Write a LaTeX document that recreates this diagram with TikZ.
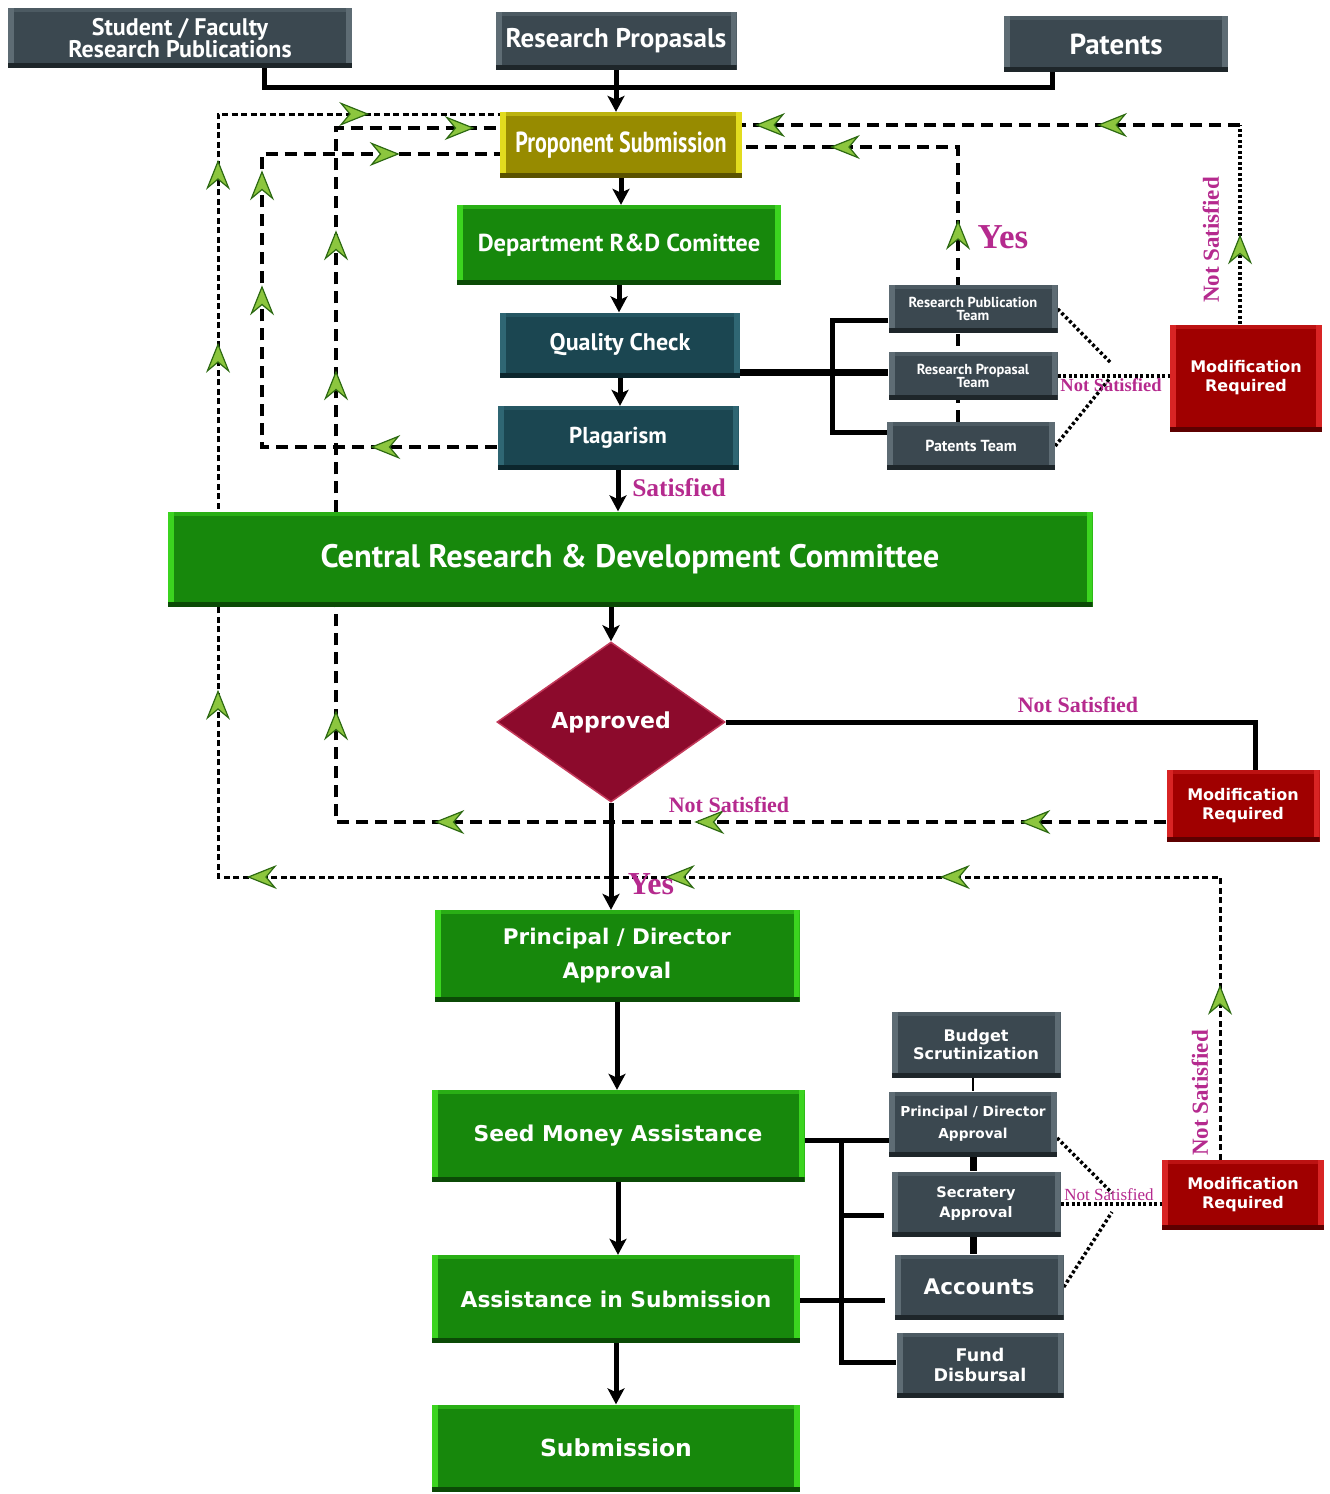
\documentclass[tikz,border=0pt]{standalone}
\usepackage{fontspec}
\setmainfont{DejaVu Sans}
\newfontfamily\dinfont{PT Sans}
\newfontfamily\narrowfont[FakeStretch=0.76]{PT Sans}
\newfontfamily\labelfont{Liberation Serif}
\usetikzlibrary{arrows.meta,shapes.geometric,decorations.markings}

\pgfdeclarelayer{background}
\pgfsetlayers{background,main}

\definecolor{slate}{HTML}{3B4850}
\definecolor{slateedge}{HTML}{5E6C74}
\definecolor{slatedark}{HTML}{1E262A}
\definecolor{tealbox}{HTML}{1B4651}
\definecolor{tealedge}{HTML}{2F6673}
\definecolor{tealdark}{HTML}{0C262D}
\definecolor{grn}{HTML}{17880C}
\definecolor{grnedge}{HTML}{3BD41F}
\definecolor{grndark}{HTML}{0B4A06}
\definecolor{olive}{HTML}{978B00}
\definecolor{oliveedge}{HTML}{E2DC1E}
\definecolor{olivedark}{HTML}{5A5200}
\definecolor{redbox}{HTML}{A00000}
\definecolor{rededge}{HTML}{D82424}
\definecolor{reddark}{HTML}{5E0000}
\definecolor{crimson}{HTML}{8C0A2C}
\definecolor{crimsonedge}{HTML}{C33A5B}
\definecolor{agreen}{HTML}{8CC63E}
\definecolor{adark}{HTML}{2D6A12}
\definecolor{lblc}{HTML}{B52A8E}

\tikzset{
  gtip/.tip={Stealth[length=30pt,width=24pt,inset=10pt,fill=agreen,color=adark,line width=1.2pt]},
  btip/.tip={Stealth[length=16pt,width=17pt,inset=4pt]},
}

\begin{document}
\begin{tikzpicture}[x=1pt,y=-1pt,
  box/.style={rectangle, inner sep=1pt, align=center, text=white},
  sz/.style 2 args={minimum width=#1, minimum height=#2},
  bevel/.style n args={3}{fill=#1, path picture={
      \fill[#2] (path picture bounding box.south west) rectangle ([xshift=6pt]path picture bounding box.north west);
      \fill[#2] (path picture bounding box.south east) rectangle ([xshift=-6pt]path picture bounding box.north east);
      \fill[#2, opacity=.5] (path picture bounding box.north west) rectangle ([yshift=-4pt]path picture bounding box.north east);
      \fill[#3] (path picture bounding box.south west) rectangle ([yshift=5pt]path picture bounding box.south east);}},
  greybox/.style={box, bevel={slate}{slateedge}{slatedark}},
  tealbx/.style={box, bevel={tealbox}{tealedge}{tealdark}},
  greenbox/.style={box, bevel={grn}{grnedge}{grndark}},
  olivebox/.style={box, bevel={olive}{oliveedge}{olivedark}},
  redbx/.style={box, bevel={redbox}{rededge}{reddark}, font=\bfseries\fontsize{16}{19}\selectfont},
  flow/.style={line width=5pt, -btip},
  bus/.style={line width=5pt},
  tree/.style={line width=5pt},
  dsh/.style={line width=3.5pt, dash pattern=on 12pt off 7pt},
  dts/.style={line width=3pt, dash pattern=on 6pt off 3.5pt},
  dots/.style={line width=3.5pt, dash pattern=on 3pt off 2.5pt},
  ga/.style={postaction={decorate, decoration={markings, mark=at position #1 with {\arrow{gtip}}}}},
  lbl/.style={text=lblc, font=\labelfont\bfseries\fontsize{#1}{#1}\selectfont, inner sep=0pt},
]
\useasboundingbox (0,0) rectangle (1330,1494);

% ---------- sources ----------
\node[greybox, sz={344pt}{60pt}, font=\dinfont\bfseries\fontsize{24}{22}\selectfont] (src1) at (180,38) {Student / Faculty\\Research Publications};
\node[greybox, sz={241pt}{58pt}, font=\dinfont\bfseries\fontsize{27}{29}\selectfont] (src2) at (616,41) {Research Propasals};
\node[greybox, sz={224pt}{56pt}, font=\dinfont\bfseries\fontsize{29}{31}\selectfont] (src3) at (1116,44) {Patents};

% ---------- upper chain ----------
\node[olivebox, sz={242pt}{66pt}, font=\narrowfont\bfseries\fontsize{29}{30}\selectfont] (prop) at (621,145) {Proponent Submission};
\node[greenbox, sz={324pt}{80pt}, font=\dinfont\bfseries\fontsize{24.5}{27}\selectfont] (dept) at (619,245) {Department R\&D Comittee};
\node[tealbx, sz={240pt}{65pt}, font=\dinfont\bfseries\fontsize{24}{26}\selectfont] (qc) at (620,345) {Quality Check};
\node[tealbx, sz={241pt}{64pt}, font=\dinfont\bfseries\fontsize{23}{25}\selectfont] (plag) at (618,438) {Plagarism};

% ---------- review teams ----------
\node[greybox, sz={169pt}{48pt}, font=\dinfont\bfseries\fontsize{14.5}{13.5}\selectfont] (rpt) at (973,309) {Research Publication\\Team};
\node[greybox, sz={169pt}{48pt}, font=\dinfont\bfseries\fontsize{14.5}{13.5}\selectfont] (rprt) at (973,376) {Research Propasal\\Team};
\node[greybox, sz={168pt}{48pt}, font=\dinfont\bfseries\fontsize{16}{18}\selectfont] (pt) at (971,446) {Patents Team};
\node[redbx, sz={152pt}{107pt}] (mod1) at (1246,378) {Modification\\Required};

% ---------- central committee and decision ----------
\node[greenbox, sz={925pt}{95pt}, font=\dinfont\bfseries\fontsize{32.5}{34}\selectfont] (crdc) at (630,559) {Central Research \& Development Committee};
\node[diamond, fill=crimson, draw=crimsonedge, line width=1.5pt, minimum width=228pt, minimum height=160pt, inner sep=0pt, text=white, font=\bfseries\fontsize{22}{24}\selectfont] (appr) at (611,722) {Approved};
\node[redbx, sz={153pt}{72pt}] (mod2) at (1243,806) {Modification\\Required};

% ---------- lower chain ----------
\node[greenbox, sz={365pt}{92pt}, font=\bfseries\fontsize{21.5}{34}\selectfont] (pda) at (617,956) {Principal / Director\\Approval};
\node[greenbox, sz={373pt}{92pt}, font=\bfseries\fontsize{21.8}{24}\selectfont] (sma) at (618,1136) {Seed Money Assistance};
\node[greenbox, sz={368pt}{88pt}, font=\bfseries\fontsize{21.8}{24}\selectfont] (ais) at (616,1299) {Assistance in Submission};
\node[greenbox, sz={368pt}{87pt}, font=\bfseries\fontsize{23.5}{26}\selectfont] (sub) at (616,1448) {Submission};

% ---------- funding steps ----------
\node[greybox, sz={169pt}{66pt}, font=\bfseries\fontsize{16}{18}\selectfont] (bs) at (976,1045) {Budget\\Scrutinization};
\node[greybox, sz={168pt}{65pt}, font=\bfseries\fontsize{13.7}{22}\selectfont] (pd2) at (973,1124) {Principal / Director\\Approval};
\node[greybox, sz={169pt}{65pt}, font=\bfseries\fontsize{14.5}{20}\selectfont] (sa) at (976,1204) {Secratery\\Approval};
\node[greybox, sz={169pt}{65pt}, font=\bfseries\fontsize{21.5}{24}\selectfont] (acc) at (979,1287) {Accounts};
\node[greybox, sz={167pt}{65pt}, font=\bfseries\fontsize{17.5}{20}\selectfont] (fd) at (980,1365) {Fund\\Disbursal};
\node[redbx, sz={162pt}{70pt}] (mod3) at (1243,1195) {Modification\\Required};

% ---------- routing points ----------
\coordinate (b1) at (264,87);
\coordinate (b3) at (1052,87);
\coordinate (a1) at (262,447);
\coordinate (a2) at (262,154);
\coordinate (c1) at (336,822);
\coordinate (c2) at (336,128);
\coordinate (d1) at (1220,877);
\coordinate (d2) at (218,877);
\coordinate (d3) at (218,114);
\coordinate (e1) at (1240,125);
\coordinate (f1) at (958,147);
\coordinate (g0) at (832,372);
\coordinate (g1) at (832,320);
\coordinate (g3) at (832,432);
\coordinate (h1) at (1110,362);
\coordinate (h2) at (1110,378);
\coordinate (k) at (1255,722);
\coordinate (m1) at (841,1140);
\coordinate (m2) at (841,1362);
\coordinate (m3) at (884,1215);
\coordinate (m4) at (885,1300);
\coordinate (n1) at (1112,1193);
\coordinate (n2) at (1112,1212);

\begin{pgfonlayer}{background}
  % sources feeding the submission
  \draw[bus] (src1.south -| b1) -- (b1) -- (b3) -- (src3.south -| b3);
  \draw[flow] (src2.south) -- (src2.south |- prop.north);

  % main flow
  \draw[flow] (prop.south) -- (prop.south |- dept.north);
  \draw[flow] (dept.south) -- (dept.south |- qc.north);
  \draw[flow] (qc.south) -- (qc.south |- plag.north);
  \draw[flow] (plag.south) -- (plag.south |- crdc.north);
  \draw[flow] (crdc.south -| appr.north) -- (appr.north);
  \draw[flow] (appr.south) -- (appr.south |- pda.north);
  \draw[flow] (pda.south) -- (pda.south |- sma.north);
  \draw[flow] (sma.south) -- (sma.south |- ais.north);
  \draw[flow] (ais.south) -- (ais.south |- sub.north);

  % return loops to the proponent
  \draw[dsh, ga=127pt, ga=397pt, ga=512pt, ga=666pt]
    (plag.west |- a1) -- (a1) -- (a2) -- (prop.west |- a2);
  \draw[dsh, ga=146pt, ga=472pt, ga=732pt, ga=942pt, ga=1282pt, ga=1422pt, ga=1663pt]
    (mod2.west |- c1) -- (c1) -- (c2) -- (prop.west |- c2);
  \draw[dts, ga=175pt, ga=563pt, ga=838pt, ga=1256pt, ga=1472pt, ga=1819pt, ga=2002pt, ga=2199pt]
    (mod3.north -| d1) -- (d1) -- (d2) -- (d3) -- (prop.west |- d3);
  \draw[dots, ga=90pt] (mod1.north -| e1) -- (e1);
  \draw[dsh, ga=143pt, ga=485pt] (e1) -- (prop.east |- e1);
  \draw[dsh, ga=202pt, ga=403pt] (pt.north -| f1) -- (f1) -- (prop.east |- f1);

  % quality check to the teams
  \draw[line width=7pt] (qc.east |- g0) -- (rprt.west |- g0);
  \draw[tree] (rpt.west |- g1) -- (g1) -- (g3) -- (pt.west |- g3);

  % teams to modification
  \draw[dots] (rpt.east) -- (h1);
  \draw[dots] (pt.east) -- (h2);
  \draw[dots] (rprt.east) -- (mod1.west |- rprt.east);

  % decision to modification
  \draw[tree] (appr.east) -- (k) -- (mod2.north -| k);

  % funding branches
  \draw[tree] (sma.east |- m1) -- (pd2.west |- m1);
  \draw[tree] (m1) -- (m2) -- (fd.west |- m2);
  \draw[tree] (m1 |- m3) -- (m3);
  \draw[tree] (ais.east |- m4) -- (m4);
  \draw[line width=2pt] (bs.south -| pd2.south) -- (pd2.north);
  \draw[line width=7pt] (pd2.south) -- (pd2.south |- sa.north);
  \draw[line width=7pt] (sa.south -| pd2.south) -- (pd2.south |- acc.north);
  \draw[dots] ([yshift=-14pt]pd2.east) -- (n1);
  \draw[dots] (acc.east) -- (n2);
  \draw[dots] (sa.east) -- (mod3.west |- sa.east);
\end{pgfonlayer}

% ---------- labels ----------
\node[lbl=35] (yes1) at (1003,237) {Yes};
\node[lbl=32] (yes2) at (651,884) {Yes};
\node[lbl=25.5] (sat) at (679,488) {Satisfied};
\node[lbl=22] (ns1) at (1078,705) {Not Satisfied};
\node[lbl=22] (ns2) at (729,805) {Not Satisfied};
\node[lbl=18.5] (ns3) at (1111,385) {Not Satisfied};
\node[lbl=17, font=\labelfont\fontsize{17}{17}\selectfont] (ns4) at (1109,1195) {Not Satisfied};
\node[lbl=23, rotate=90] (ns5) at (1211,240) {Not Satisfied};
\node[lbl=23, rotate=90] (ns6) at (1200,1093) {Not Satisfied};
\end{tikzpicture}
\end{document}
